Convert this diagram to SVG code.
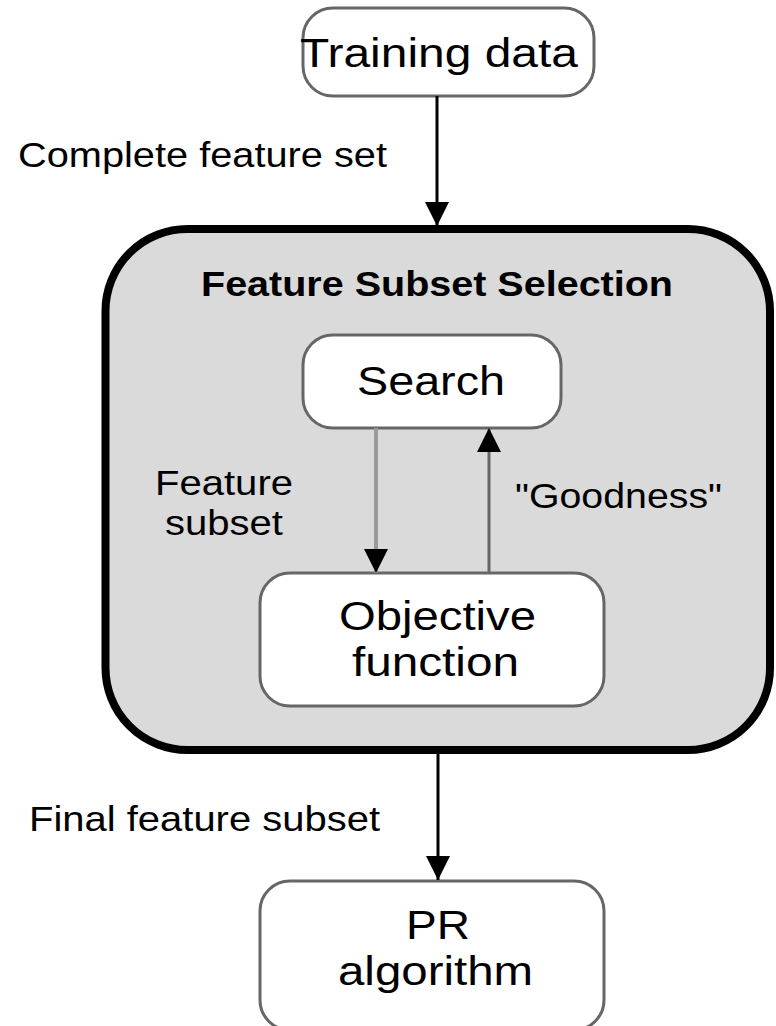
<svg xmlns="http://www.w3.org/2000/svg" width="776" height="1026" viewBox="0 0 776 1026">
<style>
  .t{font-family:"Liberation Sans",Arial,sans-serif;fill:#000}
  .n{font-size:40px}
  .l{font-size:35px}
  .b{font-size:35px;font-weight:bold}
  .box{fill:#fff;stroke:#666;stroke-width:3}
  .wire{fill:none;stroke:#000;stroke-width:3}
</style>
<defs>
  <marker id="ah" markerUnits="userSpaceOnUse" markerWidth="26" markerHeight="26" refX="24" refY="12" orient="auto">
    <path d="M0,0 L24,12 L0,24 Z" fill="#000"/>
  </marker>
</defs>
<rect width="776" height="1026" fill="#fff"/>
<g id="fss">
  <rect x="105.5" y="229" width="664.5" height="521" rx="82" ry="82" fill="#dadada" stroke="#000" stroke-width="8"/>
  <text class="t b" x="201" y="296" textLength="472" lengthAdjust="spacingAndGlyphs">Feature Subset Selection</text>
</g>
<g id="training">
  <rect class="box" x="303" y="8" width="291" height="88" rx="30" ry="30"/>
  <text class="t n" x="300" y="67" textLength="278" lengthAdjust="spacingAndGlyphs">Training data</text>
</g>
<g id="search">
  <rect class="box" x="303" y="335" width="258" height="93" rx="30" ry="30"/>
  <text class="t n" x="357" y="395" textLength="148" lengthAdjust="spacingAndGlyphs">Search</text>
</g>
<g id="objective">
  <rect class="box" x="260" y="573" width="344" height="133" rx="30" ry="30"/>
  <text class="t n" x="339" y="630" textLength="197" lengthAdjust="spacingAndGlyphs">Objective</text>
  <text class="t n" x="352" y="676" textLength="167" lengthAdjust="spacingAndGlyphs">function</text>
</g>
<g id="pr">
  <rect class="box" x="260" y="881" width="344" height="149" rx="30" ry="30"/>
  <text class="t n" x="406" y="939" textLength="64" lengthAdjust="spacingAndGlyphs">PR</text>
  <text class="t n" x="338" y="985" textLength="195" lengthAdjust="spacingAndGlyphs">algorithm</text>
</g>
<g id="connectors">
  <line class="wire" x1="437" y1="96" x2="437" y2="226" marker-end="url(#ah)"/>
  <line x1="376" y1="428" x2="376" y2="573" stroke="#999" stroke-width="4" marker-end="url(#ah)"/>
  <line x1="489" y1="573" x2="489" y2="428" stroke="#666" stroke-width="3" marker-end="url(#ah)"/>
  <line class="wire" x1="438" y1="754" x2="438" y2="880" marker-end="url(#ah)"/>
</g>
<g id="labels">
  <text class="t l" x="18" y="167" textLength="369" lengthAdjust="spacingAndGlyphs">Complete feature set</text>
  <text class="t l" x="155" y="495" textLength="138" lengthAdjust="spacingAndGlyphs">Feature</text>
  <text class="t l" x="165" y="535" textLength="118" lengthAdjust="spacingAndGlyphs">subset</text>
  <text class="t l" x="515" y="508" textLength="207" lengthAdjust="spacingAndGlyphs">"Goodness"</text>
  <text class="t l" x="29" y="831" textLength="351" lengthAdjust="spacingAndGlyphs">Final feature subset</text>
</g>
</svg>
